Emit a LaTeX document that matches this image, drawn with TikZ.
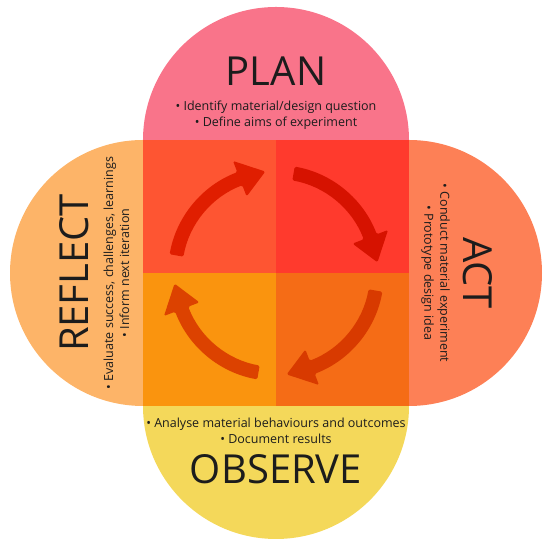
\documentclass[tikz,border=0pt]{standalone}
\usepackage{fontspec}
\setmainfont{Open Sans}
\definecolor{planc}{HTML}{F9748A}
\definecolor{actc}{HTML}{FD8056}
\definecolor{obsc}{HTML}{F4D85A}
\definecolor{refc}{HTML}{FDB468}
\definecolor{qTL}{HTML}{FE5532}
\definecolor{qTR}{HTML}{FF3A2D}
\definecolor{qBL}{HTML}{FA940E}
\definecolor{qBR}{HTML}{F56C16}
\definecolor{arTL}{HTML}{E01E00}
\definecolor{arTR}{HTML}{D61200}
\definecolor{arBR}{HTML}{D83A00}
\definecolor{arBL}{HTML}{DC4200}
\definecolor{ink}{HTML}{1C1C1C}
\begin{document}
\begin{tikzpicture}[x=1pt,y=1pt,
  titletext/.style={font=\fontsize{40}{40}\selectfont, text=ink, inner sep=0pt},
  bullettext/.style={font=\fontsize{12.5}{16}\selectfont, text=ink, align=center, inner sep=0pt}]
\useasboundingbox (0,0) rectangle (550,548);
% half discs
\fill[planc] (143pt,408pt) arc[start angle=180, end angle=0, radius=133pt] -- cycle;
\fill[actc] (409pt,408pt) arc[start angle=90, end angle=-90, radius=133pt] -- cycle;
\fill[obsc] (409pt,142pt) arc[start angle=0, end angle=-180, radius=133pt] -- cycle;
\fill[refc] (143pt,142pt) arc[start angle=270, end angle=90, radius=133pt] -- cycle;
% quadrants
\fill[qTL] (143,275) rectangle (276,408);
\fill[qTR] (276,275) rectangle (409,408);
\fill[qBL] (143,142) rectangle (276,275);
\fill[qBR] (276,142) rectangle (409,275);
% arrows
\foreach \k/\col in {0/arTL,1/arTR,2/arBR,3/arBL}{
  \pgfmathsetmacro\angA{170-90*\k}
  \pgfmathsetmacro\angB{111-90*\k}
  \pgfmathsetmacro\angT{96-90*\k}
  \fill[\col, rounded corners=1.5pt, shift={(276pt,275pt)}]
    (\angA:108pt) arc[start angle=\angA, end angle=\angB, radius=108pt]
    -- (\angB:120pt) -- (\angT:102pt) -- (\angB:82pt) -- (\angB:94pt)
    arc[start angle=\angB, end angle=\angA, radius=94pt] -- cycle;
}
% texts
\node[titletext] (plan) at (276,477) {PLAN};
\node[bullettext] (planb) at (276,433) {• Identify material/design question\\• Define aims of experiment};
\node[titletext] (obs) at (276,79) {OBSERVE};
\node[bullettext] (obsb) at (276,117) {• Analyse material behaviours and outcomes\\• Document results};
\node[titletext, rotate=90] (refl) at (74,275) {REFLECT};
\node[bullettext, rotate=90] (reflb) at (116.5,275) {• Evaluate success, challenges, learnings\\• Inform next iteration};
\node[titletext, rotate=-90] (act) at (478,275) {ACT};
\node[bullettext, rotate=-90] (actb) at (435.5,275) {• Conduct material experiment\\• Prototype design idea};
\end{tikzpicture}
\end{document}
